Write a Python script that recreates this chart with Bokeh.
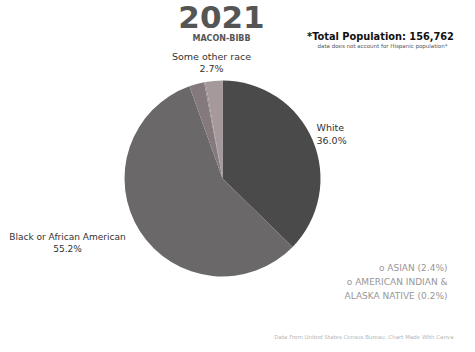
import math
from bokeh.plotting import figure
from bokeh.models import Range1d, ColumnDataSource
from bokeh.core.properties import value
from bokeh.embed import file_html
from bokeh.resources import INLINE

categories = ["White", "Black or African American", "Asian", "American Indian & Alaska Native", "Some other race"]
percents = [36.0, 55.2, 2.4, 0.2, 2.7]
colors = ["#4b4a4b", "#6b6869", "#847a7d", "#958a8d", "#a5999b"]
total_population = "156,762"

W, H = 475, 352
p = figure(width=W, height=H, output_backend="svg", toolbar_location=None,
           x_range=Range1d(0, W), y_range=Range1d(0, H), min_border=0)
p.axis.visible = False
p.grid.visible = False
p.outline_line_color = None
p.background_fill_color = "white"

total = sum(percents)
starts, ends = [], []
cum = 0.0
for v in percents:
    a0 = math.pi / 2 - cum / total * 2 * math.pi
    cum += v
    a1 = math.pi / 2 - cum / total * 2 * math.pi
    starts.append(a1)
    ends.append(a0)

cx, cy, r = 222, H - 178, 98
src = ColumnDataSource(dict(cat=categories, pct=percents, color=colors, s=starts, e=ends))
p.wedge(x=cx, y=cy, radius=r, start_angle="s", end_angle="e", direction="anticlock",
        fill_color="color", line_color=None, source=src)

font = value("DejaVu Sans")

def txt(x, y, t, size, color="#444444", align="center", style="normal", baseline="middle"):
    p.text(x=[x], y=[H - y], text=[t], text_font=font, text_font_size=size,
           text_color=color, text_align=align, text_baseline=baseline, text_font_style=style)

txt(221, 16, "2021", "31px", "#555555", style="bold")
txt(221, 38, "MACON-BIBB", "8px", "#555555", style="bold")
txt(380, 36, "*Total Population: " + total_population, "9.8px", "#111111", style="bold")
txt(382, 45, "data does not account for Hispanic population*", "5.5px", "#555555")

txt(316, 127, categories[0], "9.5px", "#333333", align="left")
txt(316, 140, f"{percents[0]:.1f}%", "9.5px", "#333333", align="left")
txt(67, 236, categories[1], "9px", "#333333")
txt(67, 248, f"{percents[1]:.1f}%", "9px", "#333333")
txt(211, 56, categories[4], "9.5px", "#333333")
txt(211, 68, f"{percents[4]:.1f}%", "9.5px", "#333333")

txt(447, 267, f"o ASIAN ({percents[2]:.1f}%)", "9px", "#9a9696", align="right")
txt(447, 281, "o AMERICAN INDIAN &", "9px", "#9a9696", align="right")
txt(447, 295, f"ALASKA NATIVE ({percents[3]:.1f}%)", "9px", "#9a9696", align="right")

txt(453, 336, "Data From United States Census Bureau. Chart Made With Canva", "5.5px", "#b5b5b5", align="right")

open("out.html", "w").write(file_html(p, INLINE))
